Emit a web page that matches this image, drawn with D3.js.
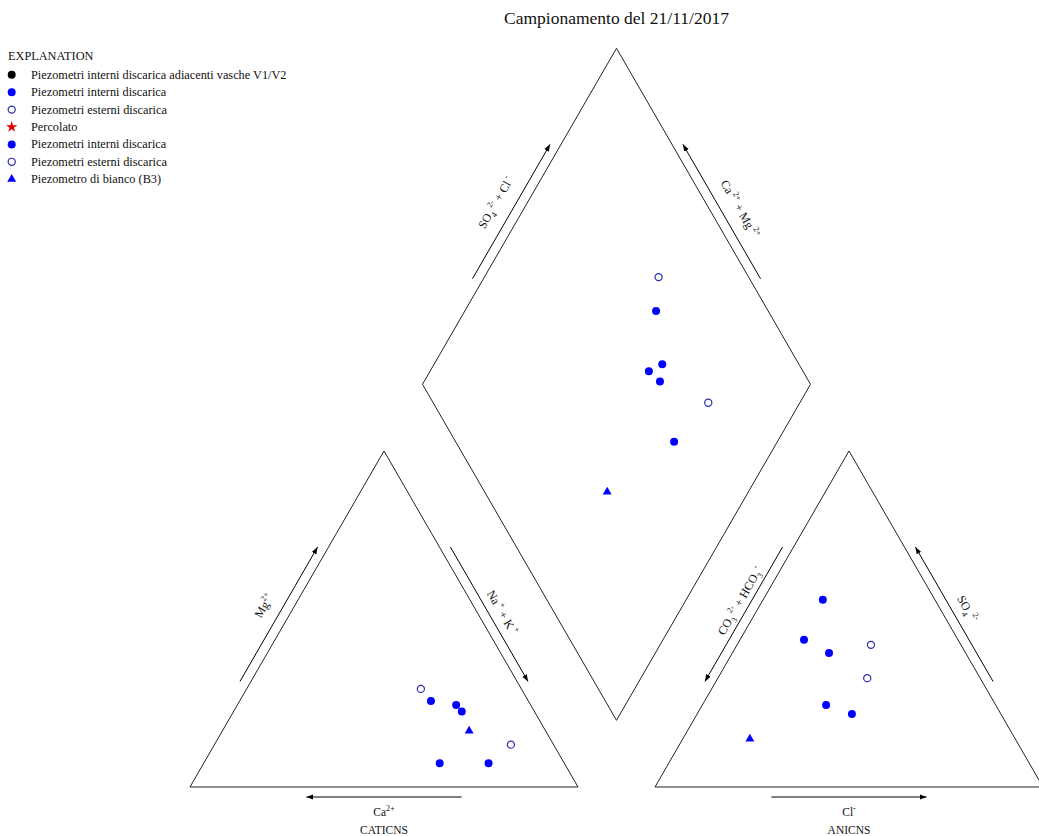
<!DOCTYPE html>
<html>
<head>
<meta charset="utf-8">
<script src="https://cdn.jsdelivr.net/npm/d3@7"></script>
<style>
  body { margin: 0; background: #fff; }
  svg { display: block; }
  text { font-family: "Liberation Serif", "Times New Roman", serif; fill: #111; }
</style>
</head>
<body>
<svg id="chart" width="1039" height="836"></svg>
<script>
// Campionamento del 21/11/2017 — percent of meq/L
const sampleType = ["esterni", "interni", "interni", "interni", "interni", "esterni", "interni", "bianco"];
const caPct   = [25.9, 25.1, 19.2, 18.7, 32.1, 11.0, 19.5, 19.7];
const mgPct   = [29.2, 25.6, 24.4, 22.5,  7.1, 12.6,  7.1, 16.7];
const naKPct  = [44.9, 49.3, 56.4, 58.8, 60.8, 76.4, 73.4, 63.6];
const clPct   = [34.5, 15.4, 16.5, 24.9, 39.9, 38.5, 31.9, 17.3];
const so4Pct  = [42.3, 55.7, 43.8, 39.9, 21.7, 32.4, 24.4, 14.3];
const hco3Pct = [23.2, 28.9, 39.7, 35.2, 38.4, 29.1, 43.7, 68.4];

const legendLabels = [
  "Piezometri interni discarica adiacenti vasche V1/V2",
  "Piezometri interni discarica",
  "Piezometri esterni discarica",
  "Percolato",
  "Piezometri interni discarica",
  "Piezometri esterni discarica",
  "Piezometro di bianco (B3)"
];
const legendKinds = ["adiacenti", "interni", "esterni", "percolato", "interni", "esterni", "bianco"];

const titleText = "Campionamento del 21/11/2017";

// ---- layout ----
const svg = d3.select("#chart");
const side = 388, gap = 77;
const x0c = 190, baseY = 787;
const x0a = x0c + side + gap;
const S3 = Math.sqrt(3);

const along = d3.scaleLinear().domain([0, 100]).range([0, side]);
const up = d3.scaleLinear().domain([0, 100]).range([0, side * S3 / 2]);

const cationXY = i => [x0c + along(naKPct[i]) + along(mgPct[i]) / 2, baseY - up(mgPct[i])];
const anionXY = i => [x0a + along(clPct[i]) + along(so4Pct[i]) / 2, baseY - up(so4Pct[i])];
const diamondXY = i => {
  const X1 = x0c + along(naKPct[i]);
  const X2 = x0a + along(clPct[i] + so4Pct[i]);
  return [(X1 + X2) / 2, baseY - (X2 - X1) * S3 / 2];
};

// corner points
const cL = [x0c, baseY], cR = [x0c + side, baseY], cT = [x0c + side / 2, baseY - side * S3 / 2];
const aL = [x0a, baseY], aR = [x0a + side, baseY], aT = [x0a + side / 2, baseY - side * S3 / 2];
const dB = [(cR[0] + aL[0]) / 2, baseY - gap * S3 / 2];
const dLft = [(x0c + x0a) / 2, baseY - (x0a - x0c) * S3 / 2];
const dRgt = [(cR[0] + aR[0]) / 2, baseY - (aR[0] - cR[0]) * S3 / 2];
const dTop = [(x0c + aR[0]) / 2, baseY - (aR[0] - x0c) * S3 / 2];

svg.append("defs").append("marker")
  .attr("id", "head").attr("viewBox", "0 -3 7 6")
  .attr("refX", 7).attr("refY", 0)
  .attr("markerWidth", 7).attr("markerHeight", 6)
  .attr("markerUnits", "userSpaceOnUse").attr("orient", "auto")
  .append("path").attr("d", "M0,-2.6L7,0L0,2.6Z").attr("fill", "#000");

const line = d3.line();
[[cL, cR, cT, cL], [aL, aR, aT, aL], [dB, dRgt, dTop, dLft, dB]].forEach(pts => {
  svg.append("path").attr("d", line(pts)).attr("fill", "none")
    .attr("stroke", "#222").attr("stroke-width", 1);
});

// rich text with sub/superscripts
function rich(g, parts, size) {
  const t = g.append("text").attr("font-size", size).attr("text-anchor", "middle");
  let shift = 0;
  parts.forEach(([s, kind]) => {
    const target = kind === "sup" ? -size * 0.45 : kind === "sub" ? size * 0.3 : 0;
    t.append("tspan")
      .attr("dy", target - shift)
      .attr("font-size", kind === "n" ? size : size * 0.7)
      .text(s);
    shift = target;
  });
  return t;
}

// side arrows and labels
const sides = [
  { a: cL, b: cT, n: [-S3 / 2, -0.5], rot: -60, no: 13, al: 0,
    parts: [["Mg", "n"], ["2+", "sup"]] },
  { a: cT, b: cR, n: [S3 / 2, -0.5], rot: 60, no: 8, al: 5,
    parts: [["Na", "n"], [" +", "sup"], [" + K", "n"], [" +", "sup"]] },
  { a: aT, b: aL, n: [-S3 / 2, -0.5], rot: -60, no: 6, al: 10,
    parts: [["CO", "n"], ["3", "sub"], [" 2-", "sup"], [" + HCO", "n"], ["3", "sub"], [" -", "sup"]] },
  { a: aR, b: aT, n: [S3 / 2, -0.5], rot: 60, no: 10, al: 2,
    parts: [["SO", "n"], ["4", "sub"], [" 2-", "sup"]] },
  { a: dLft, b: dTop, n: [-S3 / 2, -0.5], rot: -60, no: 14, al: 0,
    parts: [["SO", "n"], ["4", "sub"], [" 2-", "sup"], [" + Cl", "n"], [" -", "sup"]] },
  { a: dRgt, b: dTop, n: [S3 / 2, -0.5], rot: 60, no: 13, al: 7,
    parts: [["Ca", "n"], [" 2+", "sup"], [" + Mg", "n"], [" 2+", "sup"]] },
  { a: cR, b: cL, n: [0, 1], rot: 0, off: 10, label: false },
  { a: aL, b: aR, n: [0, 1], rot: 0, off: 10, label: false }
];

sides.forEach(sd => {
  const off = sd.off || 9.5;
  const p = f => [sd.a[0] + (sd.b[0] - sd.a[0]) * f + sd.n[0] * off,
                  sd.a[1] + (sd.b[1] - sd.a[1]) * f + sd.n[1] * off];
  const p1 = p(0.3), p2 = p(0.7);
  svg.append("path").attr("d", line([p1, p2]))
    .attr("stroke", "#000").attr("stroke-width", 1).attr("marker-end", "url(#head)");
  if (sd.label === false) return;
  const mid = [(p1[0] + p2[0]) / 2, (p1[1] + p2[1]) / 2];
  const r = sd.rot * Math.PI / 180;
  const dir = [Math.cos(r), Math.sin(r)];
  const cx = mid[0] + sd.n[0] * sd.no + dir[0] * sd.al;
  const cy = mid[1] + sd.n[1] * sd.no + dir[1] * sd.al;
  const g = svg.append("g").attr("transform", `translate(${cx},${cy}) rotate(${sd.rot})`);
  rich(g, sd.parts, 12);
});

// bottom labels
const cg = svg.append("g").attr("transform", `translate(${cT[0]},816)`);
rich(cg, [["Ca", "n"], ["2+", "sup"]], 11.5);
svg.append("text").attr("x", cT[0]).attr("y", 834).attr("font-size", 11.5)
  .attr("text-anchor", "middle").text("CATICNS");
const ag = svg.append("g").attr("transform", `translate(${aT[0]},816)`);
rich(ag, [["Cl", "n"], ["-", "sup"]], 11.5);
svg.append("text").attr("x", aT[0]).attr("y", 834).attr("font-size", 11.5)
  .attr("text-anchor", "middle").text("ANICNS");

// title
svg.append("text").attr("x", dTop[0]).attr("y", 24).attr("font-size", 17.5)
  .attr("text-anchor", "middle").text(titleText);

// symbol styles
const style = {
  adiacenti: { shape: d3.symbolCircle, size: 50, fill: "#000", stroke: "none" },
  interni:   { shape: d3.symbolCircle, size: 50, fill: "#0000ff", stroke: "none" },
  esterni:   { shape: d3.symbolCircle, size: 40, fill: "none", stroke: "#2b2bb0" },
  percolato: { shape: d3.symbolStar, size: 40, fill: "#e00000", stroke: "none" },
  bianco:    { shape: d3.symbolTriangle, size: 34, fill: "#0000ff", stroke: "none" }
};
function drawSymbol(kind, x, y) {
  const s = style[kind];
  svg.append("path")
    .attr("d", d3.symbol().type(s.shape).size(s.size)())
    .attr("transform", `translate(${x},${y})`)
    .attr("fill", s.fill).attr("stroke", s.stroke).attr("stroke-width", 1.2);
}

sampleType.forEach((k, i) => {
  [cationXY(i), anionXY(i), diamondXY(i)].forEach(([x, y]) => drawSymbol(k, x, y));
});

// legend
svg.append("text").attr("x", 8).attr("y", 60).attr("font-size", 12.3).text("EXPLANATION");
const legendY = d3.scaleLinear().domain([0, 1]).range([74.8, 92.2]);
legendLabels.forEach((lab, i) => {
  drawSymbol(legendKinds[i], 11.7, legendY(i));
  svg.append("text").attr("x", 31).attr("y", legendY(i) + 4).attr("font-size", 12.3).text(lab);
});
</script>
</body>
</html>
